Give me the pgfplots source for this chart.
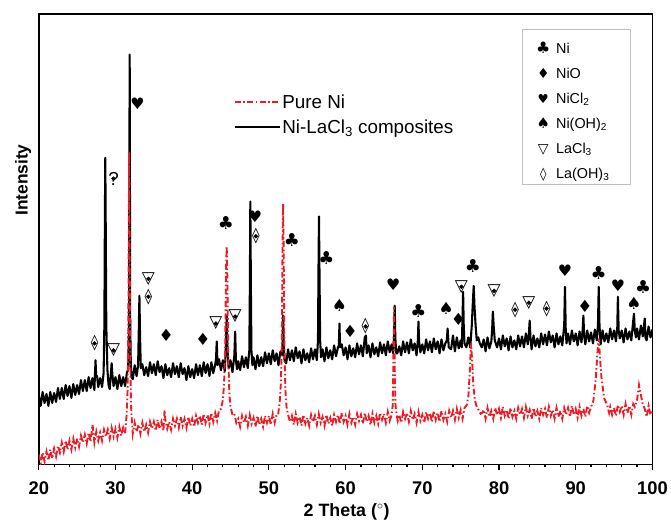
\documentclass[border=0pt]{standalone}
\usepackage{fontspec}
\setmainfont{Liberation Sans}
\newfontfamily\symfont{DejaVu Sans}
\usepackage{pgfplots}
\pgfplotsset{compat=1.18}
\usepackage{pgfplotstable}
\definecolor{xred}{RGB}{237,28,36}
\newcommand\Cl[1][18]{{\fontsize{#1}{#1}\selectfont\symfont ♣}}
\newcommand\Di[1][17]{{\fontsize{#1}{#1}\selectfont\symfont ♦}}
\newcommand\He[1][16]{{\fontsize{#1}{#1}\selectfont\symfont ♥}}
\newcommand\Sp[1][17]{{\fontsize{#1}{#1}\selectfont\symfont ♠}}
\newcommand\Tr[1][17]{{\fontsize{#1}{#1}\selectfont\symfont ▽}}
\newcommand\Lz[1][15.5]{{\fontsize{#1}{#1}\selectfont\symfont ◊}}
\newcommand\Qm{{\fontsize{19}{19}\selectfont ?}}

\pgfplotstableread{
x y
20 70
20.25 59
20.5 73
20.75 62
21 71
21.25 59
21.5 73
21.75 62
22 72
22.25 63
22.5 77
22.75 66
23 77
23.25 66
23.5 80
23.75 69
24 79
24.25 67
24.5 81
24.75 70
25 80
25.25 71
25.5 85
25.75 74
26 85
26.25 74
26.5 88
26.75 77
27 87
27.25 75
27.32 90
27.4 105
27.48 88
27.6 89
27.75 78
28 87
28.25 78
28.45 92
28.55 140
28.62 250
28.67 309
28.72 250
28.8 140
28.95 95
29.1 80
29.25 76
29.42 94
29.5 102
29.6 90
29.75 79
30 88
30.25 76
30.5 90
30.75 79
31 88
31.25 79
31.5 93
31.65 95
31.76 140
31.85 413
31.92 140
32.0 100
32.1 88
32.25 86
32.5 100
32.75 89
32.95 100
33.05 140
33.12 170
33.2 130
33.3 97
33.5 101
33.75 90
34 98
34.25 89
34.5 103
34.75 92
35 101
35.25 90
35.5 104
35.75 93
36 99
36.25 87
36.5 101
36.75 90
37 97
37.25 88
37.5 102
37.75 91
38 99
38.25 88
38.5 102
38.75 91
39 97
39.25 85
39.5 99
39.75 88
40 96
40.25 87
40.5 101
40.75 90
41 100
41.25 89
41.5 103
41.75 92
42 101
42.25 89
42.5 103
42.75 92
43 101
43.1 105
43.2 124
43.3 100
43.5 106
43.75 95
44 105
44.25 94
44.4 120
44.5 150
44.6 118
44.75 97
45 105
45.25 93
45.5 110
45.6 134
45.7 105
45.85 96
46 104
46.25 95
46.5 109
46.75 98
47 108
47.25 97
47.45 115
47.52 180
47.58 265
47.65 180
47.72 115
47.85 100
48 108
48.25 96
48.5 110
48.75 99
49 108
49.25 99
49.5 113
49.75 102
50 112
50.25 101
50.5 115
50.75 104
51 112
51.25 100
51.5 114
51.75 110
51.85 150
51.95 118
52.05 104
52.25 102
52.5 116
52.75 105
53 115
53.25 104
53.5 118
53.75 107
54 114
54.25 102
54.5 116
54.75 105
55 112
55.25 103
55.5 117
55.75 106
56 116
56.25 105
56.4 125
56.47 200
56.53 250
56.6 190
56.68 125
56.8 108
57 116
57.25 104
57.5 118
57.75 107
58 115
58.25 106
58.5 120
58.75 109
59 118
59.12 120
59.2 142
59.28 118
59.5 121
59.75 110
60 118
60.25 106
60.5 120
60.75 109
61 117
61.25 108
61.5 122
61.75 111
62 120
62.25 109
62.5 128
62.65 130
62.75 112
63 120
63.25 108
63.5 122
63.75 111
64 118
64.25 109
64.5 123
64.75 112
65 121
65.25 110
65.5 124
65.75 113
66 121
66.2 112
66.32 130
66.4 160
66.48 128
66.6 112
66.75 112
67 119
67.25 110
67.5 124
67.75 113
68 123
68.25 112
68.5 126
68.75 115
69 122
69.25 110
69.42 125
69.5 144
69.58 124
69.75 113
70 121
70.25 112
70.5 126
70.75 115
71 124
71.25 113
71.5 127
71.75 116
72 124
72.25 112
72.5 126
72.75 115
73 122
73.2 125
73.3 137
73.45 118
73.75 116
74 130
74.25 114
74.5 128
74.75 117
75 125
75.15 118
75.25 150
75.32 174
75.4 140
75.5 122
75.75 118
76 128
76.25 118
76.45 140
76.6 165
76.7 180
76.8 160
76.95 140
77.1 125
77.3 128
77.5 122
77.75 118
78 126
78.25 114
78.5 128
78.75 117
79 124
79.1 135
79.2 154
79.3 140
79.45 125
79.75 118
80 127
80.25 116
80.5 130
80.75 119
81 127
81.25 115
81.5 129
81.75 118
82 125
82.25 116
82.5 130
82.75 119
83 129
83.25 118
83.5 132
83.75 121
83.9 132
84 145
84.1 128
84.25 116
84.5 130
84.75 119
85 127
85.25 118
85.5 132
85.75 121
86 131
86.25 120
86.5 134
86.75 123
87 130
87.25 118
87.5 132
87.75 121
88 129
88.25 120
88.5 140
88.6 179
88.7 135
88.8 122
89 132
89.25 121
89.5 135
89.75 124
90 132
90.25 120
90.5 134
90.75 123
90.9 135
91 150
91.1 130
91.25 121
91.5 135
91.75 124
92 133
92.25 122
92.5 136
92.75 125
92.9 140
93 179
93.1 140
93.25 121
93.5 135
93.75 124
94 132
94.25 123
94.5 137
94.75 126
95 135
95.25 124
95.42 138
95.5 169
95.6 135
95.75 127
96 135
96.25 123
96.5 137
96.75 126
97 134
97.25 125
97.5 145
97.6 152
97.7 135
97.85 128
98 137
98.25 126
98.5 140
98.75 129
99 147
99.1 128
99.25 125
99.5 139
99.75 128
100 136
}\blackdata

\pgfplotstableread{
x y
20 10
20.25 1
20.5 12
20.75 3
21 13
21.25 4
21.5 15
21.75 6
22 16
22.25 8
22.5 19
22.75 12
23 22
23.25 13
23.5 24
23.75 15
24 24
24.25 15
24.5 26
24.75 17
25 26
25.25 18
25.5 29
25.75 22
26 30
26.25 21
26.5 32
26.75 23
27 40
27.1 34
27.25 22
27.5 33
27.75 24
28 32
28.25 24
28.5 35
28.75 28
29 35
29.25 26
29.5 37
29.75 28
30 36
30.25 27
30.5 38
30.75 29
31 37
31.25 31
31.45 50
31.58 75
31.68 150
31.78 315
31.86 200
31.94 100
32.02 60
32.15 42
32.25 31
32.5 42
32.75 33
33 40
33.25 31
33.5 42
33.75 33
34 40
34.25 32
34.5 43
34.75 36
35 43
35.25 34
35.5 45
35.75 36
36 43
36.25 34
36.4 55
36.5 45
36.75 36
37 43
37.25 35
37.5 46
37.75 39
38 46
38.25 37
38.5 48
38.75 39
39 46
39.25 37
39.5 48
39.75 39
40 46
40.25 38
40.5 49
40.75 42
41 49
41.25 40
41.5 51
41.75 42
42 50
42.25 41
42.5 52
42.75 43
43 52
43.25 44
43.5 55
43.75 56
44.0 65
44.15 80
44.3 120
44.42 200
44.5 220
44.58 190
44.7 110
44.85 70
45.0 58
45.25 50
45.5 51
45.75 42
46 46
46.25 38
46.5 49
46.75 42
47 48
47.25 39
47.5 50
47.75 41
48 47
48.25 38
48.5 49
48.75 40
49 46
49.25 38
49.5 49
49.75 42
50 49
50.25 40
50.5 51
50.75 42
51 50
51.2 50
51.4 62
51.55 80
51.68 120
51.78 220
51.85 263
51.92 220
52.02 120
52.15 75
52.3 58
52.5 50
52.75 43
53 49
53.25 40
53.5 51
53.75 42
54 48
54.25 39
54.5 50
54.75 41
55 47
55.25 39
55.5 50
55.75 43
56 49
56.25 40
56.5 51
56.75 42
57 48
57.25 39
57.5 50
57.75 41
58 47
58.25 39
58.5 50
58.75 43
59 50
59.25 41
59.5 52
59.75 43
60 49
60.25 40
60.5 51
60.75 42
61 48
61.25 40
61.5 51
61.75 44
62 50
62.25 41
62.5 52
62.75 43
63 49
63.25 40
63.5 51
63.75 42
64 49
64.25 41
64.5 52
64.75 45
65 51
65.25 42
65.5 53
65.75 44
66.0 50
66.15 60
66.25 120
66.32 159
66.4 100
66.5 60
66.65 50
66.8 44
67 50
67.25 42
67.5 53
67.75 46
68 52
68.25 43
68.5 54
68.75 45
69 51
69.25 42
69.5 53
69.75 44
70 50
70.25 42
70.5 53
70.75 46
71 52
71.25 43
71.5 54
71.75 45
72 52
72.25 43
72.5 54
72.75 45
73 51
73.25 43
73.5 54
73.75 47
74 54
74.25 45
74.5 56
74.75 47
75 55
75.25 46
75.5 57
75.8 60
76.0 68
76.2 95
76.35 122
76.5 105
76.65 80
76.85 65
77.1 58
77.4 54
77.6 51
77.8 52
78 55
78.25 46
78.5 57
78.75 48
79 54
79.25 46
79.5 57
79.75 50
80 56
80.25 47
80.5 58
80.75 49
81 55
81.25 46
81.5 57
81.75 48
82 54
82.25 46
82.5 57
82.75 50
83 56
83.25 47
83.5 58
83.75 49
84 55
84.25 46
84.5 57
84.75 48
85 54
85.25 46
85.5 57
85.75 50
86 56
86.25 47
86.5 58
86.75 49
87 55
87.25 46
87.5 57
87.75 48
88 54
88.25 46
88.5 57
88.75 50
89 57
89.25 48
89.5 59
89.75 50
90 56
90.25 47
90.5 58
90.75 49
91 56
91.25 48
91.5 59
91.75 52
92.0 58
92.3 64
92.6 85
92.85 115
93.0 127
93.15 110
93.35 88
93.7 67
94.1 60
94.35 52
94.5 58
94.75 50
95 57
95.25 49
95.5 60
95.75 53
96 59
96.25 50
96.5 61
96.75 52
97 59
97.25 50
97.5 61
97.7 58
98.0 65
98.25 80
98.45 72
98.7 62
99.0 56
99.25 48
99.5 59
99.75 50
100 54
}\reddata

\pgfplotstableread{
x y s
27.27 122 \Lz
29.74 115 \Tr
29.74 288 \Qm
32.86 363 \He
34.29 187 \Tr
34.3 169 \Lz
36.6 130 \Di
41.4 126 \Di
43.1 142 \Tr
45.6 149 \Tr
44.4 243 \Cl
48.2 250 \He
48.3 230 \Lz
53.0 226 \Cl
57.5 208 \Cl
59.2 160 \Sp
60.6 134 \Di
62.6 139 \Lz
66.2 181 \He
69.5 155 \Cl
73.1 157 \Sp
74.7 146 \Di
75.1 179 \Tr
76.6 200 \Cl
79.35 175 \Tr
82.1 156 \Lz
83.9 163 \Tr
86.2 157 \Lz
88.6 195 \He
91.2 159 \Di
93.0 193 \Cl
95.5 180 \He
97.6 162 \Sp
98.8 179 \Cl
}\annot

\begin{document}
\begin{tikzpicture}
\begin{axis}[
  at={(0,0)}, anchor=south west,
  scale only axis, width=617bp, height=453bp,
  xmin=20, xmax=100, ymin=0, ymax=454,
  xtick={20,30,...,100}, minor x tick num=4,
  ytick=\empty,
  xtick pos=left,
  tick align=outside,
  major tick length=6bp, minor tick length=3bp,
  axis line style={line width=1.6bp},
  every tick/.style={black, line width=1.2bp},
  /pgf/number format/assume math mode=true,
  xticklabel style={font=\fontsize{18.5}{20}\selectfont\bfseries, yshift=-8bp},
  xlabel={2 Theta ($^{\circ}$)},
  xlabel style={font=\fontsize{18}{20}\selectfont\bfseries, at={(axis description cs:0.5016,0)}, anchor=base, yshift=-52bp},
  ylabel={Intensity},
  ylabel style={font=\fontsize{17.5}{20}\selectfont\bfseries, at={(axis description cs:-0.012,0.631)}, anchor=south, inner sep=0pt},
  legend image code/.code={\draw[#1] (0bp,0bp) -- (45bp,0bp);},
  legend style={draw=none, fill=none, at={(rel axis cs:0.318,0.826)}, anchor=north west,
    font=\fontsize{19}{22}\selectfont, row sep=6bp, inner sep=0pt},
  legend cell align=left,
]
\addlegendimage{xred, line width=1.5bp, dash pattern=on 6bp off 2.5bp on 1.5bp off 2.5bp}
\addlegendentry{Pure Ni}
\addlegendimage{black, line width=1.5bp}
\addlegendentry{Ni-LaCl\textsubscript{3} composites}

\addplot[forget plot, black, line width=2.1bp, line join=round] table[x=x,y=y] {\blackdata};
\addplot[forget plot, xred, line width=1.9bp, dash pattern=on 6bp off 2.5bp on 1.5bp off 2.5bp] table[x=x,y=y] {\reddata};

\addplot[forget plot, only marks, mark=*, mark options={draw=none, fill=none},
  point meta=explicit symbolic,
  nodes near coords, nodes near coords align={anchor=center},
  every node near coord/.append style={anchor=center, inner sep=0pt, text=black}]
  table[x=x, y=y, meta=s] {\annot};

\node[draw=black!25, line width=0.8bp, anchor=north west, inner sep=0pt,
  minimum width=108bp, minimum height=156bp] (lg) at (rel axis cs:0.7877,0.9669) {};
\node[anchor=north west, inner sep=0pt, align=left, font=\fontsize{14.5}{25.3}\selectfont]
  at ([xshift=15bp,yshift=-13bp]lg.north west) {%
  \makebox[12bp][c]{\Cl[16]}\hspace{7bp}Ni\\
  \makebox[12bp][c]{\Di[14]}\hspace{7bp}NiO\\
  \makebox[12bp][c]{\He[12.5]}\hspace{7bp}NiCl\textsubscript{2}\\
  \makebox[12bp][c]{\Sp[15]}\hspace{7bp}Ni(OH)\textsubscript{2}\\
  \makebox[12bp][c]{\Tr[14]}\hspace{7bp}LaCl\textsubscript{3}\\
  \makebox[12bp][c]{\Lz[13]}\hspace{7bp}La(OH)\textsubscript{3}};
\end{axis}
\path (-39bp,-57bp) rectangle (632bp,467bp);
\end{tikzpicture}
\end{document}
